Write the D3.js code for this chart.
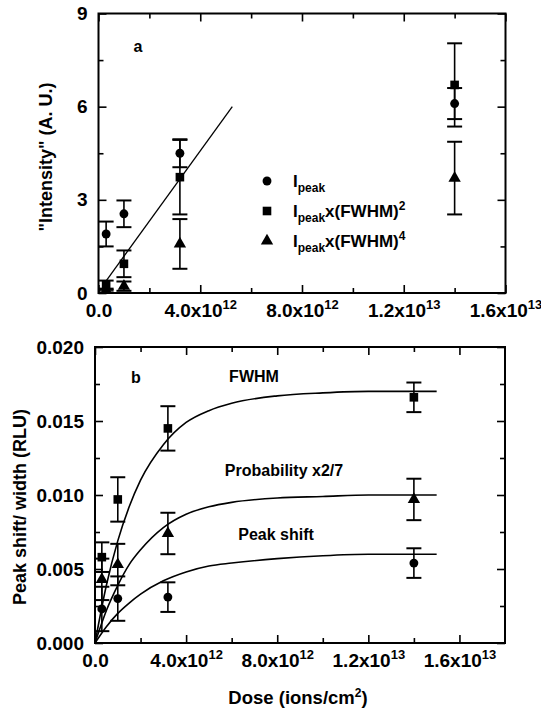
<!DOCTYPE html>
<html>
<head>
<meta charset="utf-8">
<script src="https://cdn.jsdelivr.net/npm/d3@7"></script>
<style>
  body { margin: 0; background: #fff; }
  text { font-family: "Liberation Sans", Arial, Helvetica, sans-serif; font-weight: bold; fill: #000; }
</style>
</head>
<body>
<script>
// Panel a: intensity vs dose
var dosesA = [0.3e12, 1.0e12, 3.2e12, 1.4e13];
var ipeak = [1.9, 2.55, 4.5, 6.1];
var ipeakErr = [0.4, 0.43, 0.45, 0.5];
var ipeakF2 = [0.25, 0.94, 3.73, 6.7];
var ipeakF2Err = [0.15, 0.43, 1.2, 1.34];
var ipeakF4 = [0.08, 0.22, 1.58, 3.7];
var ipeakF4Err = [0.06, 0.15, 0.8, 1.17];
var fitDoseA = [0.28e12, 5.26e12];
var fitIntensityA = [0.37, 6.0];

// Panel b: peak shift / width vs dose
var dosesB = [0.3e12, 1.0e12, 3.2e12, 1.4e13];
var fwhm = [0.0058, 0.0097, 0.0145, 0.0166];
var fwhmErr = [0.001, 0.0015, 0.0015, 0.001];
var prob = [0.0043, 0.0053, 0.0074, 0.0097];
var probErr = [0.0014, 0.0014, 0.0014, 0.0014];
var shift = [0.0023, 0.0030, 0.0031, 0.0054];
var shiftErr = [0.0015, 0.0015, 0.001, 0.001];

// fitted curves
var curveDose = [0, 0.5e12, 1e12, 1.5e12, 2e12, 3e12, 4e12, 5e12, 6e12, 8e12, 10e12, 12e12, 15e12];
var fwhmCurve = [0, 0.0039, 0.0069, 0.0092, 0.0110, 0.0134, 0.0149, 0.0157, 0.0162, 0.0167, 0.0169, 0.0170, 0.0170];
var probCurve = [0, 0.0022, 0.0039, 0.0053, 0.0063, 0.0078, 0.0087, 0.0092, 0.0095, 0.0098, 0.0099, 0.0100, 0.0100];
var shiftCurve = [0, 0.0011, 0.0020, 0.0027, 0.0033, 0.0042, 0.0048, 0.0052, 0.0054, 0.0057, 0.0059, 0.0060, 0.0060];

// ticks
var xMajorA = [0, 4e12, 8e12, 12e12, 16e12];
var xMinorA = [2e12, 6e12, 10e12, 14e12];
var yMajorA = [0, 3, 6, 9];
var yMinorA = [1.5, 4.5, 7.5];
var xMajorB = [0, 4e12, 8e12, 12e12, 16e12];
var xMinorB = [2e12, 6e12, 10e12, 14e12];
var yMajorB = [0, 0.005, 0.010, 0.015, 0.020];
var yMinorB = [0.0025, 0.0075, 0.0125, 0.0175];

var svg = d3.select('body').append('svg')
    .attr('width', 541)
    .attr('height', 711);

function sciLabel(sel) {
  sel.each(function(d) {
    var t = d3.select(this).text(null);
    if (d === 0) { t.text('0.0'); return; }
    var e = Math.floor(Math.log10(d) + 1e-9);
    t.append('tspan').text((d / Math.pow(10, e)).toFixed(1) + 'x10');
    t.append('tspan').attr('dy', -8).style('font-size', '13px').text(e);
  });
}

function drawFrame(x, y, xMajor, xMinor, yMajor, yMinor, yFmt) {
  var x0 = x.range()[0], x1 = x.range()[1];
  var y0 = y.range()[0], y1 = y.range()[1];
  var g = svg.append('g');

  function axis(a, tx, ty, vals, size, fmt, pad) {
    var ax = g.append('g')
        .attr('transform', 'translate(' + tx + ',' + ty + ')')
        .call(a.tickValues(vals).tickSize(size).tickPadding(pad || 3).tickFormat(fmt || ''));
    ax.select('.domain').remove();
    ax.selectAll('line').attr('stroke', '#000').attr('stroke-width', 1.6);
    ax.selectAll('text').style('font-size', '19px').attr('fill', '#000');
    return ax;
  }

  var bx = axis(d3.axisBottom(x), 0, y0, xMajor, -8, function(d) { return d; }, 11);
  bx.selectAll('.tick text').call(sciLabel);
  axis(d3.axisBottom(x), 0, y0, xMinor, -5);
  axis(d3.axisTop(x), 0, y1, xMajor, -8);
  axis(d3.axisTop(x), 0, y1, xMinor, -5);
  axis(d3.axisLeft(y), x0, 0, yMajor, -8, yFmt, 11);
  axis(d3.axisLeft(y), x0, 0, yMinor, -5);
  axis(d3.axisRight(y), x1, 0, yMajor, -8);
  axis(d3.axisRight(y), x1, 0, yMinor, -5);

  g.append('rect')
      .attr('x', x0).attr('y', y1)
      .attr('width', x1 - x0).attr('height', y0 - y1)
      .attr('fill', 'none').attr('stroke', '#000').attr('stroke-width', 2);
}

function drawSeries(x, y, doses, vals, errs, type, size) {
  var g = svg.append('g');
  var cap = 7.5;
  doses.forEach(function(d, i) {
    var cx = x(d);
    var top = y(vals[i] + errs[i]), bot = y(vals[i] - errs[i]);
    g.append('line').attr('x1', cx).attr('x2', cx).attr('y1', top).attr('y2', bot)
        .attr('stroke', '#000').attr('stroke-width', 1.6);
    [top, bot].forEach(function(yy) {
      g.append('line').attr('x1', cx - cap).attr('x2', cx + cap).attr('y1', yy).attr('y2', yy)
          .attr('stroke', '#000').attr('stroke-width', 2);
    });
  });
  g.selectAll('path.pt')
      .data(doses)
    .enter().append('path')
      .attr('class', 'pt')
      .attr('d', d3.symbol().type(type).size(size))
      .attr('transform', function(d, i) { return 'translate(' + x(d) + ',' + y(vals[i]) + ')'; })
      .attr('fill', '#000');
}

// ---- panel a ----
var xa = d3.scaleLinear().domain([0, 1.6e13]).range([98.5, 505.5]);
var ya = d3.scaleLinear().domain([0, 9]).range([293, 13.5]);

drawFrame(xa, ya, xMajorA, xMinorA, yMajorA, yMinorA, d3.format('d'));

svg.append('path')
    .datum(fitDoseA)
    .attr('d', d3.line().x(function(d) { return xa(d); }).y(function(d, i) { return ya(fitIntensityA[i]); }))
    .attr('fill', 'none').attr('stroke', '#000').attr('stroke-width', 1.3);

drawSeries(xa, ya, dosesA, ipeakF4, ipeakF4Err, d3.symbolTriangle, 66);
drawSeries(xa, ya, dosesA, ipeakF2, ipeakF2Err, d3.symbolSquare, 74);
drawSeries(xa, ya, dosesA, ipeak, ipeakErr, d3.symbolCircle, 62);

svg.append('text').attr('x', 138).attr('y', 52).attr('text-anchor', 'middle')
    .style('font-size', '16px').text('a');

svg.append('text')
    .attr('transform', 'translate(52,157) rotate(-90)')
    .attr('text-anchor', 'middle')
    .style('font-size', '18px')
    .text('"Intensity" (A. U.)');

// legend
var legendTypes = [d3.symbolCircle, d3.symbolSquare, d3.symbolTriangle];
var legendSizes = [62, 74, 66];
var legendSup = [null, '2', '4'];
legendTypes.forEach(function(t, i) {
  var ly = 181 + i * 30;
  svg.append('path')
      .attr('d', d3.symbol().type(t).size(legendSizes[i]))
      .attr('transform', 'translate(267,' + ly + ')')
      .attr('fill', '#000');
  var tx = svg.append('text').attr('x', 293).attr('y', ly + 6).style('font-size', '17px');
  tx.append('tspan').text('I');
  tx.append('tspan').attr('dy', 5).style('font-size', '12px').text('peak');
  if (legendSup[i]) {
    tx.append('tspan').attr('dy', -5).text('x(FWHM)');
    tx.append('tspan').attr('dy', -7).style('font-size', '12px').text(legendSup[i]);
  }
});

// ---- panel b ----
var xb = d3.scaleLinear().domain([0, 1.8e13]).range([95, 505]);
var yb = d3.scaleLinear().domain([0, 0.02]).range([643, 347]);

drawFrame(xb, yb, xMajorB, xMinorB, yMajorB, yMinorB, d3.format('.3f'));

var curveLine = function(vals) {
  return d3.line()
      .x(function(d) { return xb(d); })
      .y(function(d, i) { return yb(vals[i]); })
      .curve(d3.curveMonotoneX);
};
[fwhmCurve, probCurve, shiftCurve].forEach(function(c) {
  svg.append('path')
      .datum(curveDose)
      .attr('d', curveLine(c))
      .attr('fill', 'none').attr('stroke', '#000').attr('stroke-width', 1.6);
});

drawSeries(xb, yb, dosesB, shift, shiftErr, d3.symbolCircle, 62);
drawSeries(xb, yb, dosesB, prob, probErr, d3.symbolTriangle, 66);
drawSeries(xb, yb, dosesB, fwhm, fwhmErr, d3.symbolSquare, 74);

svg.append('text').attr('x', 136).attr('y', 383).attr('text-anchor', 'middle')
    .style('font-size', '16px').text('b');

var curveLabels = ['FWHM', 'Probability x2/7', 'Peak shift'];
var curveLabelX = [254, 284, 276];
var curveLabelY = [382, 476, 540];
curveLabels.forEach(function(l, i) {
  svg.append('text').attr('x', curveLabelX[i]).attr('y', curveLabelY[i])
      .attr('text-anchor', 'middle').style('font-size', '16px').text(l);
});

svg.append('text')
    .attr('transform', 'translate(26,507) rotate(-90)')
    .attr('text-anchor', 'middle')
    .style('font-size', '18px')
    .text('Peak shift/ width (RLU)');

var xt = svg.append('text').attr('x', 298).attr('y', 704)
    .attr('text-anchor', 'middle').style('font-size', '18.5px');
xt.append('tspan').text('Dose (ions/cm');
xt.append('tspan').attr('dy', -7).style('font-size', '12px').text('2');
xt.append('tspan').attr('dy', 7).text(')');
</script>
</body>
</html>
